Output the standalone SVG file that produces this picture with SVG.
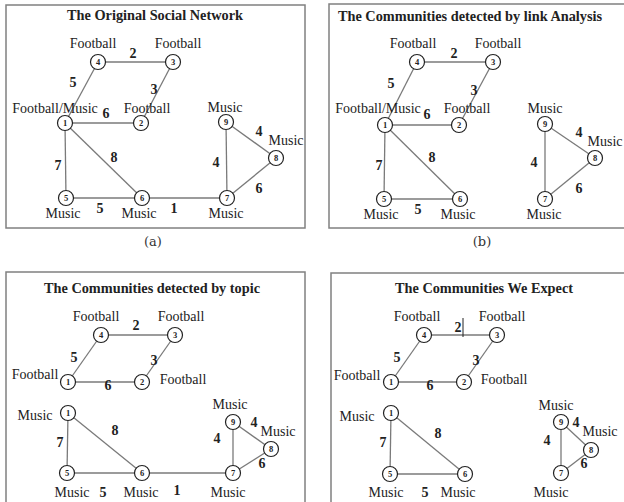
<svg xmlns="http://www.w3.org/2000/svg" width="624" height="502" viewBox="0 0 624 502">
<style>
.box{fill:#fff;stroke:#808080;stroke-width:1.5}
.edge line{stroke:#7a7a7a;stroke-width:1.3}
.node circle{fill:#fff;stroke:#222;stroke-width:1.2}
.d{font-family:"Liberation Serif",serif;font-weight:bold;font-size:8.5px;text-anchor:middle;fill:#222}
.lbl{font-family:"Liberation Serif",serif;font-size:14px;text-anchor:middle;fill:#222}
.w{font-family:"Liberation Serif",serif;font-weight:bold;font-size:14px;text-anchor:middle;fill:#222}
.title{font-family:"Liberation Serif",serif;font-weight:bold;font-size:14.3px;text-anchor:middle;fill:#222}
.cap{font-family:"DejaVu Serif","Liberation Serif",serif;font-size:13px;text-anchor:middle;fill:#333}
</style>
<rect width="624" height="502" fill="#fff"/>

<!-- Panel a -->
<g id="panel-a">
<rect class="box" x="6" y="5" width="299" height="223"/>
<text class="title" x="155" y="20">The Original Social Network</text>
<g class="edge" id="a-edges">
<line x1="98" y1="62" x2="173" y2="62"/>
<line x1="98" y1="62" x2="65" y2="123"/>
<line x1="173" y1="62" x2="141" y2="123"/>
<line x1="65" y1="123" x2="141" y2="123"/>
<line x1="65" y1="123" x2="66" y2="198"/>
<line x1="65" y1="123" x2="142" y2="198"/>
<line x1="66" y1="198" x2="142" y2="198"/>
<line x1="142" y1="198" x2="227" y2="198"/>
<line x1="226" y1="122" x2="227" y2="198"/>
<line x1="226" y1="122" x2="276" y2="158"/>
<line x1="276" y1="158" x2="227" y2="198"/>
</g>
<g id="a-weights">
<text class="w" x="133" y="58">2</text>
<text class="w" x="73" y="87">5</text>
<text class="w" x="154" y="94">3</text>
<text class="w" x="106" y="118">6</text>
<text class="w" x="114" y="162">8</text>
<text class="w" x="58" y="170">7</text>
<text class="w" x="216" y="167">4</text>
<text class="w" x="259" y="136">4</text>
<text class="w" x="259" y="193">6</text>
<text class="w" x="100" y="213">5</text>
<text class="w" x="174" y="213">1</text>
</g>
<g class="node" id="a-n4"><circle cx="98" cy="62" r="7.5"/><text class="d" x="98" y="65">4</text><text class="lbl" x="93" y="48">Football</text></g>
<g class="node" id="a-n3"><circle cx="173" cy="62" r="7.5"/><text class="d" x="173" y="65">3</text><text class="lbl" x="178" y="48">Football</text></g>
<g class="node" id="a-n1"><circle cx="65" cy="123" r="7.5"/><text class="d" x="65" y="126">1</text><text class="lbl" x="55" y="113">Football/Music</text></g>
<g class="node" id="a-n2"><circle cx="141" cy="123" r="7.5"/><text class="d" x="141" y="126">2</text><text class="lbl" x="147" y="113">Football</text></g>
<g class="node" id="a-n9"><circle cx="226" cy="122" r="7.5"/><text class="d" x="226" y="125">9</text><text class="lbl" x="225" y="112">Music</text></g>
<g class="node" id="a-n8"><circle cx="276" cy="158" r="7.5"/><text class="d" x="276" y="161">8</text><text class="lbl" x="286" y="145">Music</text></g>
<g class="node" id="a-n5"><circle cx="66" cy="198" r="7.5"/><text class="d" x="66" y="201">5</text><text class="lbl" x="63" y="218">Music</text></g>
<g class="node" id="a-n6"><circle cx="142" cy="198" r="7.5"/><text class="d" x="142" y="201">6</text><text class="lbl" x="139" y="218">Music</text></g>
<g class="node" id="a-n7"><circle cx="227" cy="198" r="7.5"/><text class="d" x="227" y="201">7</text><text class="lbl" x="226" y="218">Music</text></g>
</g>
<text class="cap" x="153" y="246">(a)</text>

<!-- Panel b -->
<g id="panel-b">
<rect class="box" x="329" y="4" width="297" height="224"/>
<text class="title" x="470" y="21">The Communities detected by link Analysis</text>
<g class="edge" id="b-edges">
<line x1="417" y1="62" x2="493" y2="62"/>
<line x1="417" y1="62" x2="385" y2="125"/>
<line x1="493" y1="62" x2="459" y2="125"/>
<line x1="385" y1="125" x2="459" y2="125"/>
<line x1="385" y1="125" x2="384" y2="199"/>
<line x1="385" y1="125" x2="460" y2="199"/>
<line x1="384" y1="199" x2="460" y2="199"/>
<line x1="545" y1="124" x2="545" y2="199"/>
<line x1="545" y1="124" x2="595" y2="158"/>
<line x1="595" y1="158" x2="545" y2="199"/>
</g>
<g id="b-weights">
<text class="w" x="454" y="58">2</text>
<text class="w" x="391" y="88">5</text>
<text class="w" x="474" y="95">3</text>
<text class="w" x="427" y="119">6</text>
<text class="w" x="432" y="162">8</text>
<text class="w" x="379" y="170">7</text>
<text class="w" x="534" y="167">4</text>
<text class="w" x="579" y="137">4</text>
<text class="w" x="579" y="193">6</text>
<text class="w" x="418" y="214">5</text>
</g>
<g class="node" id="b-n4"><circle cx="417" cy="62" r="7.5"/><text class="d" x="417" y="65">4</text><text class="lbl" x="413" y="48">Football</text></g>
<g class="node" id="b-n3"><circle cx="493" cy="62" r="7.5"/><text class="d" x="493" y="65">3</text><text class="lbl" x="498" y="48">Football</text></g>
<g class="node" id="b-n1"><circle cx="385" cy="125" r="7.5"/><text class="d" x="385" y="128">1</text><text class="lbl" x="378" y="113">Football/Music</text></g>
<g class="node" id="b-n2"><circle cx="459" cy="125" r="7.5"/><text class="d" x="459" y="128">2</text><text class="lbl" x="467" y="113">Football</text></g>
<g class="node" id="b-n9"><circle cx="545" cy="124" r="7.5"/><text class="d" x="545" y="127">9</text><text class="lbl" x="545" y="113">Music</text></g>
<g class="node" id="b-n8"><circle cx="595" cy="158" r="7.5"/><text class="d" x="595" y="161">8</text><text class="lbl" x="605" y="146">Music</text></g>
<g class="node" id="b-n5"><circle cx="384" cy="199" r="7.5"/><text class="d" x="384" y="202">5</text><text class="lbl" x="381" y="219">Music</text></g>
<g class="node" id="b-n6"><circle cx="460" cy="199" r="7.5"/><text class="d" x="460" y="202">6</text><text class="lbl" x="458" y="219">Music</text></g>
<g class="node" id="b-n7"><circle cx="545" cy="199" r="7.5"/><text class="d" x="545" y="202">7</text><text class="lbl" x="544" y="219">Music</text></g>
</g>
<text class="cap" x="482" y="246">(b)</text>

<!-- Panel c -->
<g id="panel-c">
<rect class="box" x="6" y="272" width="299" height="235"/>
<text class="title" x="152" y="293">The Communities detected by topic</text>
<g class="edge" id="c-edges">
<line x1="101" y1="335" x2="175" y2="335"/>
<line x1="101" y1="335" x2="68" y2="382"/>
<line x1="175" y1="335" x2="142" y2="382"/>
<line x1="68" y1="382" x2="142" y2="382"/>
<line x1="68" y1="413" x2="67" y2="473"/>
<line x1="68" y1="413" x2="142" y2="473"/>
<line x1="67" y1="473" x2="142" y2="473"/>
<line x1="142" y1="473" x2="233" y2="473"/>
<line x1="233" y1="422" x2="233" y2="473"/>
<line x1="233" y1="422" x2="271" y2="449"/>
<line x1="271" y1="449" x2="233" y2="473"/>
</g>
<g id="c-weights">
<text class="w" x="136" y="330">2</text>
<text class="w" x="74" y="362">5</text>
<text class="w" x="154" y="365">3</text>
<text class="w" x="108" y="390">6</text>
<text class="w" x="115" y="435">8</text>
<text class="w" x="60" y="447">7</text>
<text class="w" x="217" y="443">4</text>
<text class="w" x="254" y="427">4</text>
<text class="w" x="262" y="468">6</text>
<text class="w" x="103" y="497">5</text>
<text class="w" x="177" y="495">1</text>
</g>
<g class="node" id="c-n4"><circle cx="101" cy="335" r="7.5"/><text class="d" x="101" y="338">4</text><text class="lbl" x="96" y="321">Football</text></g>
<g class="node" id="c-n3"><circle cx="175" cy="335" r="7.5"/><text class="d" x="175" y="338">3</text><text class="lbl" x="181" y="321">Football</text></g>
<g class="node" id="c-n1a"><circle cx="68" cy="382" r="7.5"/><text class="d" x="68" y="385">1</text><text class="lbl" x="35" y="379">Football</text></g>
<g class="node" id="c-n2"><circle cx="142" cy="382" r="7.5"/><text class="d" x="142" y="385">2</text><text class="lbl" x="183" y="384">Football</text></g>
<g class="node" id="c-n1b"><circle cx="68" cy="413" r="7.5"/><text class="d" x="68" y="416">1</text><text class="lbl" x="35" y="420">Music</text></g>
<g class="node" id="c-n9"><circle cx="233" cy="422" r="7.5"/><text class="d" x="233" y="425">9</text><text class="lbl" x="230" y="409">Music</text></g>
<g class="node" id="c-n8"><circle cx="271" cy="449" r="7.5"/><text class="d" x="271" y="452">8</text><text class="lbl" x="278" y="436">Music</text></g>
<g class="node" id="c-n5"><circle cx="67" cy="473" r="7.5"/><text class="d" x="67" y="476">5</text><text class="lbl" x="72" y="497">Music</text></g>
<g class="node" id="c-n6"><circle cx="142" cy="473" r="7.5"/><text class="d" x="142" y="476">6</text><text class="lbl" x="141" y="497">Music</text></g>
<g class="node" id="c-n7"><circle cx="233" cy="473" r="7.5"/><text class="d" x="233" y="476">7</text><text class="lbl" x="228" y="497">Music</text></g>
</g>

<!-- Panel d -->
<g id="panel-d">
<rect class="box" x="331" y="273" width="295" height="234"/>
<text class="title" x="484" y="293">The Communities We Expect</text>
<g class="edge" id="d-edges">
<line x1="424" y1="335" x2="497" y2="335"/>
<line x1="424" y1="335" x2="391" y2="382"/>
<line x1="497" y1="335" x2="464" y2="382"/>
<line x1="391" y1="382" x2="464" y2="382"/>
<line x1="391" y1="413" x2="390" y2="474"/>
<line x1="391" y1="413" x2="465" y2="474"/>
<line x1="390" y1="474" x2="465" y2="474"/>
<line x1="561" y1="422" x2="561" y2="473"/>
<line x1="561" y1="422" x2="591" y2="450"/>
<line x1="591" y1="450" x2="561" y2="473"/>
</g>
<line x1="463" y1="318" x2="463" y2="337" stroke="#222" stroke-width="1"/>
<g id="d-weights">
<text class="w" x="458" y="332">2</text>
<text class="w" x="397" y="362">5</text>
<text class="w" x="476" y="365">3</text>
<text class="w" x="430" y="390">6</text>
<text class="w" x="438" y="438">8</text>
<text class="w" x="383" y="447">7</text>
<text class="w" x="547" y="445">4</text>
<text class="w" x="576" y="427">4</text>
<text class="w" x="584" y="468">6</text>
<text class="w" x="425" y="497">5</text>
</g>
<g class="node" id="d-n4"><circle cx="424" cy="335" r="7.5"/><text class="d" x="424" y="338">4</text><text class="lbl" x="417" y="321">Football</text></g>
<g class="node" id="d-n3"><circle cx="497" cy="335" r="7.5"/><text class="d" x="497" y="338">3</text><text class="lbl" x="502" y="321">Football</text></g>
<g class="node" id="d-n1a"><circle cx="391" cy="382" r="7.5"/><text class="d" x="391" y="385">1</text><text class="lbl" x="357" y="380">Football</text></g>
<g class="node" id="d-n2"><circle cx="464" cy="382" r="7.5"/><text class="d" x="464" y="385">2</text><text class="lbl" x="504" y="384">Football</text></g>
<g class="node" id="d-n1b"><circle cx="391" cy="413" r="7.5"/><text class="d" x="391" y="416">1</text><text class="lbl" x="357" y="421">Music</text></g>
<g class="node" id="d-n9"><circle cx="561" cy="422" r="7.5"/><text class="d" x="561" y="425">9</text><text class="lbl" x="556" y="410">Music</text></g>
<g class="node" id="d-n8"><circle cx="591" cy="450" r="7.5"/><text class="d" x="591" y="453">8</text><text class="lbl" x="600" y="436">Music</text></g>
<g class="node" id="d-n5"><circle cx="390" cy="474" r="7.5"/><text class="d" x="390" y="477">5</text><text class="lbl" x="386" y="497">Music</text></g>
<g class="node" id="d-n6"><circle cx="465" cy="474" r="7.5"/><text class="d" x="465" y="477">6</text><text class="lbl" x="458" y="497">Music</text></g>
<g class="node" id="d-n7"><circle cx="561" cy="473" r="7.5"/><text class="d" x="561" y="476">7</text><text class="lbl" x="551" y="497">Music</text></g>
</g>
</svg>
